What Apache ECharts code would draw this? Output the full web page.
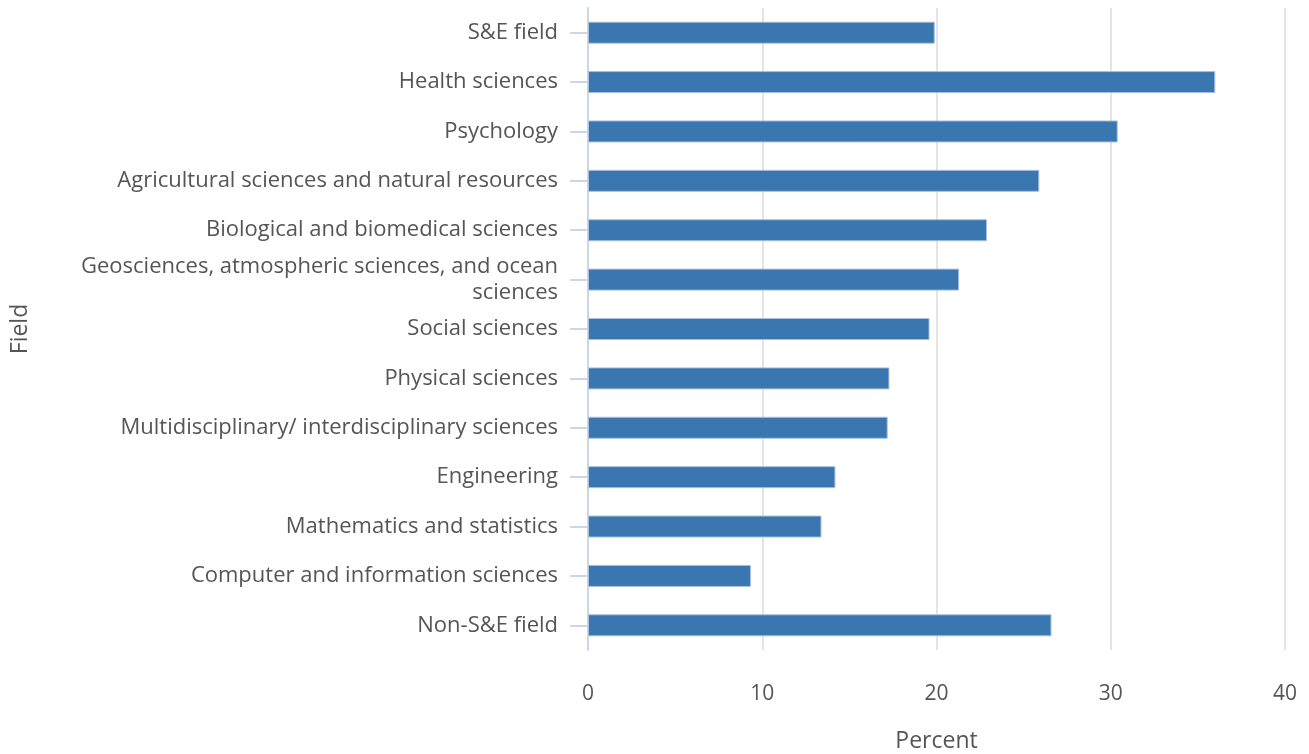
<!DOCTYPE html>
<html>
<head>
<meta charset="utf-8">
<script src="https://cdn.jsdelivr.net/npm/echarts@6/dist/echarts.min.js"></script>
<style>html,body{margin:0;padding:0;background:#fff}#c{width:1309px;height:754px}</style>
</head>
<body>
<div id="c"></div>
<script>
const categories = [
  "S&E field",
  "Health sciences",
  "Psychology",
  "Agricultural sciences and natural resources",
  "Biological and biomedical sciences",
  "Geosciences, atmospheric sciences, and ocean sciences",
  "Social sciences",
  "Physical sciences",
  "Multidisciplinary/ interdisciplinary sciences",
  "Engineering",
  "Mathematics and statistics",
  "Computer and information sciences",
  "Non-S&E field"
];
const percentValues = [19.9, 36.0, 30.4, 25.9, 22.9, 21.3, 19.6, 17.3, 17.2, 14.2, 13.4, 9.35, 26.6];
const xTicks = [0, 10, 20, 30, 40];

const chart = echarts.init(document.getElementById('c'));
chart.setOption({
  animation: false,
  grid: { left: 588, right: 24, top: 8, bottom: 104, containLabel: false, outerBoundsMode: 'none' },
  xAxis: {
    type: 'value', min: xTicks[0], max: xTicks[xTicks.length - 1], interval: 10,
    name: 'Percent', nameLocation: 'middle', nameGap: 80,
    nameTextStyle: { fontFamily: 'Open Sans', fontSize: 23, color: '#555' },
    axisLine: { show: false }, axisTick: { show: false },
    axisLabel: { margin: 34, fontFamily: 'Open Sans', fontSize: 21, color: '#555' },
    splitLine: { show: true, lineStyle: { color: '#e4e4e4', width: 2 } }
  },
  yAxis: {
    type: 'category', data: categories, inverse: true,
    name: 'Field', nameLocation: 'middle', nameGap: 556, nameRotate: 90,
    nameTextStyle: { fontFamily: 'Open Sans', fontSize: 23, color: '#555' },
    axisLine: { show: true, lineStyle: { color: '#cbd6ea', width: 2 } },
    axisTick: { show: true, alignWithLabel: true, length: 18, lineStyle: { color: '#cbd6ea', width: 2 } },
    axisLabel: {
      margin: 30, fontFamily: 'Open Sans', fontSize: 22, color: '#555', lineHeight: 26,
      formatter: v => v.replace(', and ocean sciences', ', and ocean\nsciences')
    }
  },
  series: [{
    type: 'bar', data: percentValues, barWidth: 22,
    itemStyle: { color: '#3a76b0', borderColor: '#a9c1dd', borderWidth: 1 }
  }]
});
</script>
</body>
</html>
